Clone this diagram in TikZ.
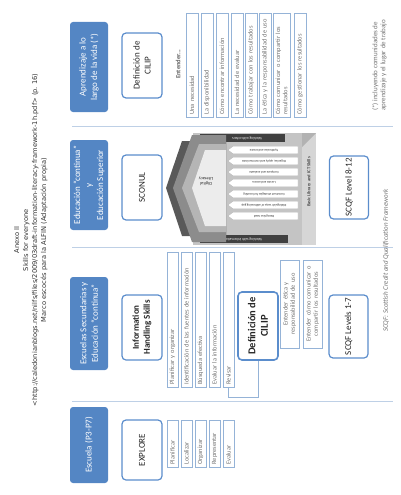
\documentclass[tikz,border=0pt]{standalone}
\usepackage{fontspec}
\setmainfont{Carlito}
\newfontfamily\titlefont{DejaVu Sans}
\definecolor{hdrblue}{RGB}{84,134,196}
\definecolor{boxblue}{RGB}{91,141,204}
\definecolor{listblue}{RGB}{149,179,215}
\definecolor{sepblue}{RGB}{190,208,230}
\definecolor{txtgray}{RGB}{115,115,115}
\definecolor{darktxt}{RGB}{38,38,38}
\definecolor{panelgray}{RGB}{196,196,196}
\definecolor{stripgray}{RGB}{214,214,214}
\definecolor{bargray}{RGB}{64,64,64}
\definecolor{hexA}{RGB}{89,89,89}
\definecolor{hexB}{RGB}{140,140,140}
\definecolor{hexC}{RGB}{181,181,181}
\definecolor{hexD}{RGB}{236,236,236}
\begin{document}
\begin{tikzpicture}[x=1pt,y=-1pt,
  hdr/.style={rotate=90, fill=hdrblue, rounded corners=3pt, text=white, align=center,
    font=\fontsize{9}{11.5}\selectfont, minimum height=38pt, inner sep=1pt},
  rbox/.style={rotate=90, draw=boxblue, line width=1.2pt, fill=white, rounded corners=4pt,
    align=center, text=darktxt, font=\fontsize{9}{11}\selectfont, minimum height=40pt, inner sep=1pt},
  lbox/.style={rotate=90, draw=listblue, line width=0.6pt, fill=white, text=txtgray,
    font=\fontsize{6.4}{7.3}\selectfont, align=left, inner xsep=2.5pt, inner ysep=0.5pt},
  sep/.style={draw=sepblue, line width=0.9pt},
  conn/.style={draw=listblue, line width=0.8pt},
  plabel/.style={rotate=180, font=\fontsize{3.2}{3.6}\selectfont, text=darktxt, inner sep=0pt},
  barlabel/.style={rotate=180, font=\fontsize{3.6}{4}\selectfont, text=white, inner sep=0pt},
  chev/.style={fill=white, draw=gray!60, line width=0.3pt}
]
\useasboundingbox (0,0) rectangle (400,495);

% title block
\node[rotate=90, align=center, font=\titlefont\fontsize{6.7}{9}\selectfont, text=black!80] (title) at (31,240)
  {Anexo II\\Skills for everyone\\<http://caledonianblogs.net/nilfs/files/2009/03draft-information-literacy-framework-1h.pdf> (p.~16)\\Marco escocés para la ALFIN (Adaptación propia)};

% band separators
\coordinate (s1a) at (72,126);  \coordinate (s1b) at (393,126);
\coordinate (s2a) at (72,247);  \coordinate (s2b) at (393,247);
\coordinate (s3a) at (72,401);  \coordinate (s3b) at (393,401);
\draw[sep] (s1a) -- (s1b);
\draw[sep] (s2a) -- (s2b);
\draw[sep] (s3a) -- (s3b);

% headers
\node[hdr, minimum width=90pt] (h1) at (89,67) {Aprendizaje a lo\\largo de la vida (*)};
\node[hdr, minimum width=90pt] (h2) at (89,185) {Educación “continua”\\y\\Educación Superior};
\node[hdr, minimum width=93pt] (h3) at (89,323.5) {Escuelas Secundarias y\\Educación “continua”};
\node[hdr, minimum width=76pt] (h4) at (89,445) {Escuela (P3-P7)};

% rounded boxes
\node[rbox, minimum width=65pt] (cilipA) at (142,65.5) {Definición de\\CILIP};
\node[rbox, minimum width=65pt] (sconul) at (142,187.5) {SCONUL};
\node[rbox, minimum width=65pt, font=\bfseries\fontsize{9}{11}\selectfont] (ihs) at (142,327.5) {Information\\Handling Skills};
\node[rbox, minimum width=60pt] (explore) at (142,450) {EXPLORE};
\node[rbox, minimum width=68pt, line width=1.6pt, font=\bfseries\fontsize{10.5}{12.5}\selectfont] (cilipB) at (258,326) {Definición de\\CILIP};
\node[rbox, minimum width=63pt, minimum height=39pt] (scqfA) at (349,187.5) {SCQF Level 8-12};
\node[rbox, minimum width=63pt, minimum height=39pt] (scqfB) at (348.5,326.5) {SCQF Levels 1-7};

% band 1 list
\node[rotate=90, text=black!60, font=\bfseries\fontsize{6.5}{7}\selectfont] (ent) at (178,64) {Entender...};
\node[lbox, text width=99pt, minimum height=12pt] (a0) at (192,65) {Una necesidad};
\node[lbox, text width=99pt, minimum height=12pt] (a1) at (207,65) {La disponibilidad};
\node[lbox, text width=99pt, minimum height=12pt] (a2) at (222,65) {Cómo encontrar información};
\node[lbox, text width=99pt, minimum height=12pt] (a3) at (237,65) {La necesidad de evaluar};
\node[lbox, text width=99pt, minimum height=12pt] (a4) at (251,65) {Cómo trabajar con los resultados};
\node[lbox, text width=99pt, minimum height=12pt] (a5) at (265,65) {La ética y la responsabilidad de uso};
\node[lbox, text width=99pt, minimum height=17pt] (a6) at (281.5,65) {Cómo comunicar o compartir los\\resultados};
\node[lbox, text width=99pt, minimum height=12pt] (a7) at (300,65) {Cómo gestionar los resultados};

\node[rotate=90, anchor=north west, align=left, text=txtgray, font=\fontsize{7}{8}\selectfont, inner sep=0pt] (fn) at (372,111)
  {(*) incluyendo comunidades de\\aprendizaje y el lugar de trabajo};

% band 3 list
\node[lbox, text width=130pt, minimum height=11pt] (b0) at (172.5,319.5) {Planificar y organizar};
\node[lbox, text width=130pt, minimum height=11pt] (b1) at (186.5,319.5) {Identificación de las fuentes de información};
\node[lbox, text width=130pt, minimum height=11pt] (b2) at (200.5,319.5) {Búsqueda efectiva};
\node[lbox, text width=130pt, minimum height=11pt] (b3) at (214.5,319.5) {Evaluar la información};
\node[lbox, text width=130pt, minimum height=11pt] (rev) at (228.5,319.5) {Revisar};
\draw[conn] (rev.west) -- ++(0,10) -| (cilipB.west);

\node[lbox, align=center, text width=83pt, minimum height=19pt] (ea) at (289.5,304) {Entender ética y\\responsabilidad de uso};
\node[lbox, align=center, text width=83pt, minimum height=19pt] (eb) at (312.5,304) {Entender cómo comunicar o\\compartir los resultados};

\node[rotate=90, anchor=west, text=txtgray, font=\itshape\fontsize{7}{8}\selectfont, inner sep=0pt] (scqfnote) at (386,332)
  {SCQF: Scottish Credit and Qualification Framework};

% band 4 list
\node[lbox, text width=42pt, minimum height=11pt] (c0) at (172.5,443.5) {Planificar};
\node[lbox, text width=42pt, minimum height=11pt] (c1) at (186.5,443.5) {Localizar};
\node[lbox, text width=42pt, minimum height=11pt] (c2) at (200.5,443.5) {Organizar};
\node[lbox, text width=42pt, minimum height=11pt] (c3) at (214.5,443.5) {Representar};
\node[lbox, text width=42pt, minimum height=11pt] (c4) at (228.5,443.5) {Evaluar};

% SCONUL seven pillars graphic
\fill[panelgray] (193,133) rectangle (302,245);
\fill[stripgray] (302,133) rectangle (316,245);
\fill[black!30] (302,133) -- (316,133) -- (302,147) -- cycle;
\node[rotate=90, font=\bfseries\fontsize{4.6}{5}\selectfont, text=black!70, inner sep=0pt] (basic) at (309,182) {Basic Library and ICT Skills};
\fill[bargray] (200,134) rectangle (285,142);
\fill[bargray] (200,235) rectangle (288,243);
\node[barlabel] (wwo) at (247,138) {Working with others};
\node[barlabel] (wwi) at (243,239) {Working with information};
\fill[hexA] (166,188) -- (182,141) -- (226,141) -- (226,236) -- (182,236) -- cycle;
\fill[hexB] (173,188) -- (192,135) -- (226,135) -- (226,242) -- (192,242) -- cycle;
\fill[hexC] (182,188) -- (199,144) -- (226,144) -- (226,232) -- (199,232) -- cycle;
\fill[hexD] (192,188) -- (205,150) -- (226,150) -- (226,226) -- (205,226) -- cycle;
\node[rotate=180, align=center, font=\fontsize{4.5}{5.2}\selectfont, text=darktxt, inner sep=0pt] (dl) at (206,181) {Digital\\Literacy};
\foreach \yy in {150,161,172,183,194,205,216}
  \filldraw[chev] (228,\yy) -- (233,\yy-3.8) -- (298,\yy-3.8) -- (298,\yy+3.8) -- (233,\yy+3.8) -- cycle;
\node[plabel] (p7) at (264,150) {Synthesise and create};
\node[plabel] (p6) at (264,161) {Organise, apply and communicate};
\node[plabel] (p5) at (264,172) {Compare and evaluate};
\node[plabel] (p4) at (264,183) {Locate and access};
\node[plabel] (p3) at (264,194) {Construct strategies for locating};
\node[plabel] (p2) at (264,205) {Distinguish ways of addressing gap};
\node[plabel] (p1) at (264,216) {Recognise need};
\end{tikzpicture}
\end{document}
